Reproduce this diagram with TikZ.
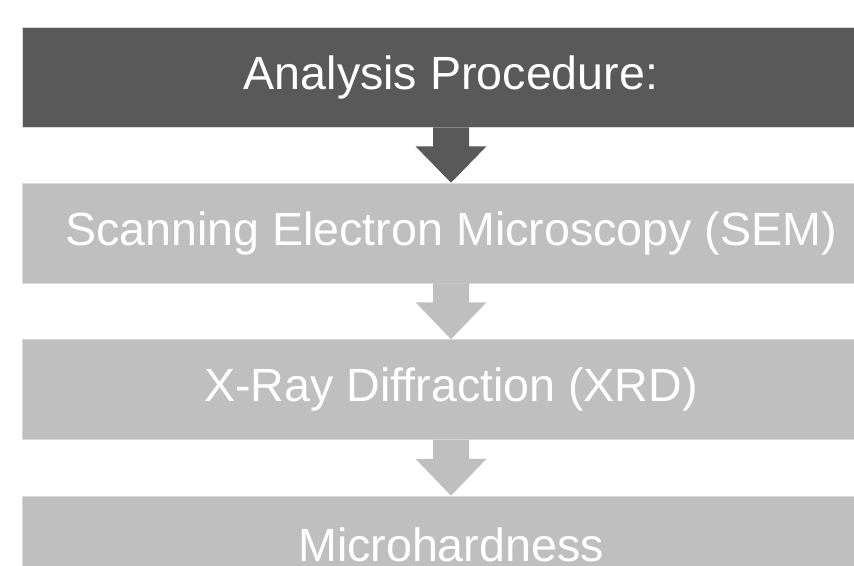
\documentclass[tikz,border=0pt]{standalone}
\usepackage{fontspec}
\setmainfont{Liberation Sans}
\usetikzlibrary{calc}
\definecolor{darkbox}{HTML}{595959}
\definecolor{lightbox}{HTML}{BFBFBF}
\tikzset{
  stepbox/.style={minimum width=858pt, minimum height=100pt, inner sep=0pt,
    text=white, font=\fontsize{46.6}{52}\selectfont, draw=white!85!black, line width=0.6pt},
  darkstep/.style={stepbox, fill=darkbox},
  lightstep/.style={stepbox, fill=lightbox}
}
\newcommand\blockarr[3]{%
  \fill[#3] ($(#1.south)+(-18,0)$) -- ($(#1.south)+(-18,19)$) -- ($(#1.south)+(-35.5,19)$)
    -- (#2.north) -- ($(#1.south)+(35.5,19)$) -- ($(#1.south)+(18,19)$)
    -- ($(#1.south)+(18,0)$) -- cycle;}
\begin{document}
\begin{tikzpicture}[x=1pt,y=-1pt]
\useasboundingbox (0,0) rectangle (854,565);
\clip (0,0) rectangle (854,565);
\fill[white] (0,0) rectangle (854,565);
\node[darkstep] (a) at (451,77) {Analysis Procedure:};
\node[lightstep] (b) at (451,233) {\raisebox{-2pt}{Scanning Electron Microscopy (SEM)}};
\node[lightstep] (c) at (451,389.5) {\raisebox{-2pt}{X-Ray Diffraction (XRD)}};
\node[lightstep, minimum height=99pt] (d) at (451,545.5) {\raisebox{1pt}{Microhardness}};
\blockarr{a}{b}{darkbox}
\blockarr{b}{c}{lightbox}
\blockarr{c}{d}{lightbox}
\end{tikzpicture}
\end{document}
